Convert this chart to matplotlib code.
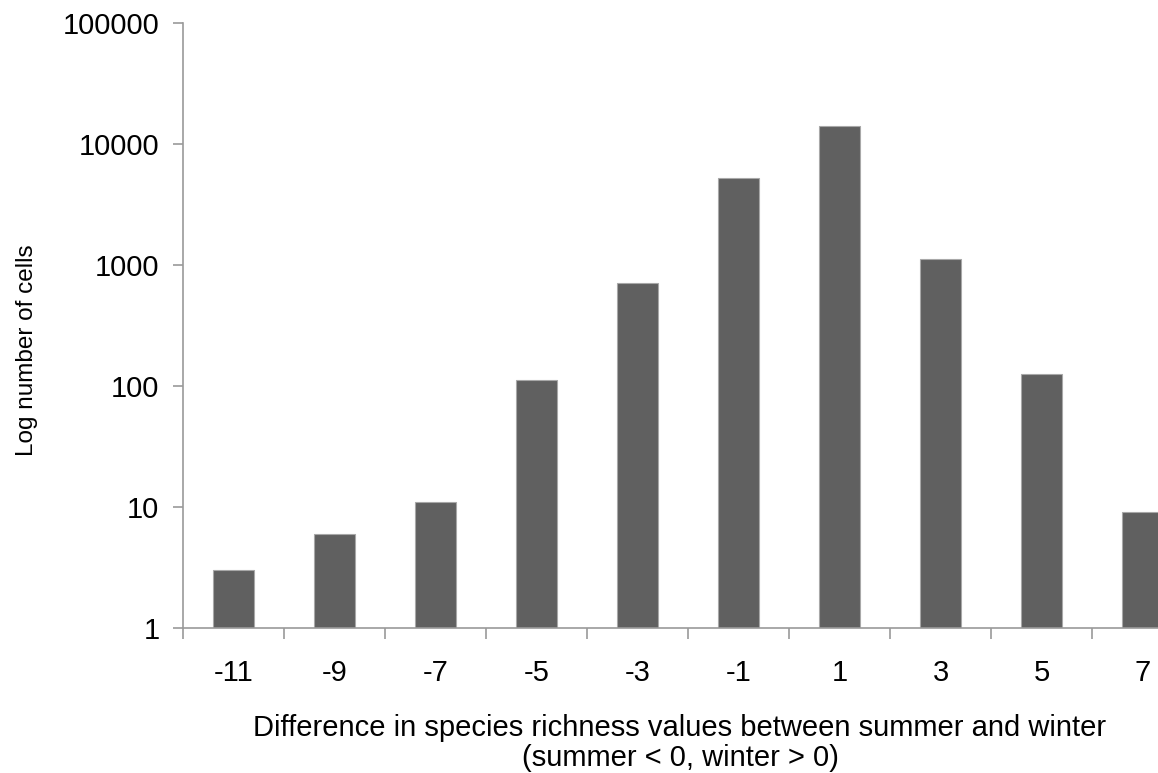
import numpy as np
import matplotlib.pyplot as plt
from matplotlib.ticker import FixedLocator, NullLocator, FixedFormatter

plt.rcParams['font.family'] = ['Liberation Sans', 'DejaVu Sans']

# Differenz der Artenzahl (Sommer/Winter) und Anzahl Zellen
categories = ['-11', '-9', '-7', '-5', '-3', '-1', '1', '3', '5', '7']
cells = [3, 6, 11, 112, 710, 5200, 14100, 1120, 125, 9.1]
yticks = [1, 10, 100, 1000, 10000, 100000]

W, H = 1158, 773
fig = plt.figure(figsize=(W / 100, H / 100), dpi=100)

# Achse reicht rechts etwas über den Bildrand hinaus
left, right = 183, 1193
top, bottom = 23, 628
ax = fig.add_axes([left / W, 1 - bottom / H, (right - left) / W, (bottom - top) / H])

x = np.arange(len(categories))
ax.bar(x, cells, width=0.4, color='#606060', edgecolor='#a8a8a8', linewidth=0.8)
ax.set_yscale('log')
ax.set_ylim(1, 100000)
ax.set_xlim(-0.5, len(categories) - 0.5)

axcol = '#9a9a9a'
for side in ['top', 'right']:
    ax.spines[side].set_visible(False)
for side in ['left', 'bottom']:
    ax.spines[side].set_color(axcol)
    ax.spines[side].set_linewidth(1.2)

ax.yaxis.set_major_locator(FixedLocator(yticks))
ax.yaxis.set_major_formatter(FixedFormatter([str(v) for v in yticks]))
ax.yaxis.set_minor_locator(NullLocator())

# Striche zwischen den Kategorien, Beschriftung in der Mitte
ax.set_xticks(np.arange(len(categories) + 1) - 0.5)
ax.set_xticklabels([])
ax.set_xticks(x, minor=True)
ax.set_xticklabels(categories, minor=True)
ax.tick_params(axis='x', which='major', length=8, width=1.2, color=axcol, direction='out')
ax.tick_params(axis='x', which='minor', length=0, pad=22, labelsize=21)
ax.tick_params(axis='y', which='major', length=7, width=1.2, color=axcol, direction='out',
               pad=10, labelsize=21)

fig.text(680 / W, 1 - 728 / H, 'Difference in species richness values between summer and winter',
         ha='center', va='center', fontsize=21)
fig.text(680 / W, 1 - 758 / H, '(summer < 0, winter > 0)', ha='center', va='center', fontsize=21)
fig.text(27 / W, 1 - 350 / H, 'Log number of cells', rotation=90, ha='center', va='center',
         fontsize=17.5)

fig.savefig('out.png', dpi=100)
